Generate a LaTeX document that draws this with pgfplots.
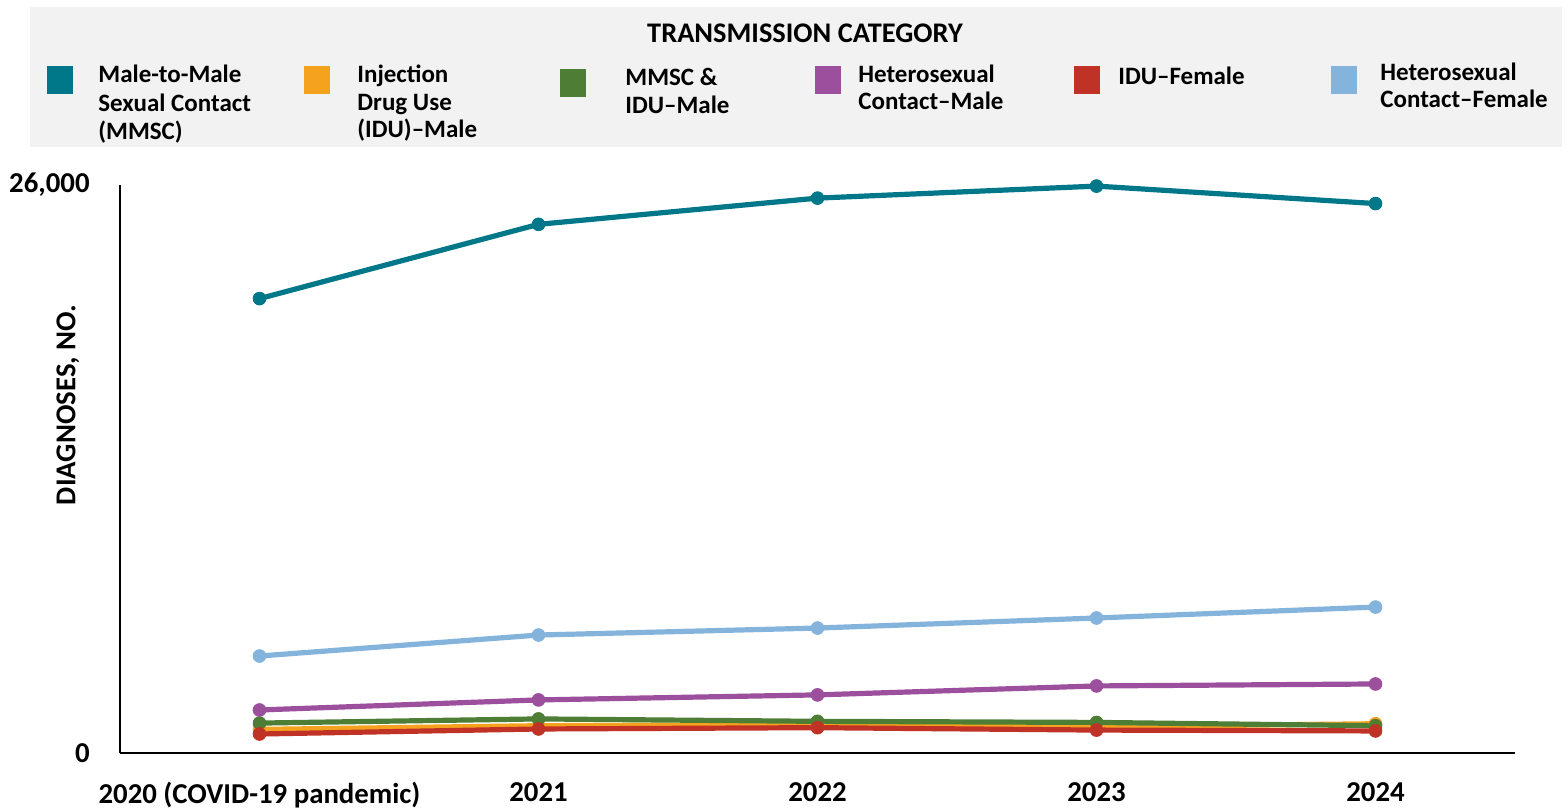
\documentclass[border=0pt]{standalone}
\usepackage{fontspec}
\setmainfont{Carlito}
\usepackage{pgfplots}
\pgfplotsset{compat=1.18}

\definecolor{cMMSC}{RGB}{0,120,138}
\definecolor{cIDUM}{RGB}{245,163,31}
\definecolor{cBOTH}{RGB}{78,125,53}
\definecolor{cHETM}{RGB}{155,79,156}
\definecolor{cIDUF}{RGB}{192,50,38}
\definecolor{cHETF}{RGB}{132,179,219}
\definecolor{legbg}{RGB}{242,242,242}

% one row per year, 0 = 2020 ... 4 = 2024
\pgfplotstableread{
x  mmsc   idum  both  hetm  iduf  hetf
0  20800  1080  1370  1970  870   4440
1  24200  1250  1560  2430  1100  5400
2  25400  1300  1450  2660  1160  5720
3  25950  1200  1400  3070  1050  6180
4  25150  1340  1250  3160  1010  6680
}\diag

\newcommand{\legfont}{\fontsize{12.5pt}{13.5pt}\selectfont\bfseries}
\newcommand{\bigfont}{\fontsize{14.4pt}{16pt}\selectfont\bfseries}

\begin{document}
\begin{tikzpicture}
\useasboundingbox (0,0) rectangle (784pt,-404pt);

% legend panel
\fill[legbg] (15pt,-3.5pt) rectangle (781pt,-73.5pt);
\node[anchor=base, inner sep=0pt, font=\fontsize{14.2pt}{15pt}\selectfont\bfseries]
  at (402.5pt,-21.5pt) {TRANSMISSION CATEGORY};

\fill[cMMSC] (23.5pt,-33pt) rectangle ++(13pt,-14pt);
\fill[cIDUM] (152pt,-33pt) rectangle ++(13pt,-14pt);
\fill[cBOTH] (280pt,-34.5pt) rectangle ++(13pt,-14pt);
\fill[cHETM] (407.5pt,-33pt) rectangle ++(13pt,-14pt);
\fill[cIDUF] (537pt,-33pt) rectangle ++(13pt,-14pt);
\fill[cHETF] (665.5pt,-33pt) rectangle ++(13pt,-14pt);

\begin{scope}[every node/.style={anchor=base west, inner sep=0pt, font=\legfont}]
  \node at (49pt,-41.5pt) {Male-to-Male};
  \node at (49pt,-55.7pt) {Sexual Contact};
  \node at (49pt,-69.9pt) {(MMSC)};
  \node at (178.5pt,-41.5pt) {Injection};
  \node at (178.5pt,-55.5pt) {Drug Use};
  \node at (178.5pt,-69pt) {(IDU)–Male};
  \node at (312.5pt,-43pt) {MMSC \&};
  \node at (312.5pt,-56.5pt) {IDU–Male};
  \node at (429pt,-41.5pt) {Heterosexual};
  \node at (429pt,-55pt) {Contact–Male};
  \node at (559pt,-42.5pt) {IDU–Female};
  \node at (690pt,-40.5pt) {Heterosexual};
  \node at (690pt,-54pt) {Contact–Female};
\end{scope}

\begin{axis}[
  at={(60pt,-376.5pt)}, anchor=south west,
  scale only axis, width=697.5pt, height=284pt,
  xmin=-0.5, xmax=4.5, ymin=0, ymax=26000,
  axis lines*=left,
  axis line style={black, line width=1pt},
  major tick length=0pt,
  xtick={0,1,2,3,4},
  xticklabels={2020 (COVID-19 pandemic),2021,2022,2023,2024},
  ytick={0,26000},
  yticklabels={0,{26,000}},
  scaled y ticks=false,
  /pgf/number format/assume math mode=true,
  xticklabel style={font=\bigfont, anchor=north, inner sep=0pt, yshift=-14.5pt},
  yticklabel style={font=\bigfont, anchor=east, inner sep=0pt, xshift=-15pt},
  ylabel={DIAGNOSES, NO.},
  ylabel style={font=\bigfont, at={(axis description cs:0,0.613)}, anchor=center, xshift=0pt, yshift=26pt},
  clip=false,
  every axis plot/.append style={line width=2.6pt, mark=*, mark size=3.2pt,
    mark options={line width=0.4pt}},
]
\addplot[cMMSC] table[x=x, y=mmsc] {\diag};
\addplot[cIDUM] table[x=x, y=idum] {\diag};
\addplot[cBOTH] table[x=x, y=both] {\diag};
\addplot[cHETM] table[x=x, y=hetm] {\diag};
\addplot[cIDUF] table[x=x, y=iduf] {\diag};
\addplot[cHETF] table[x=x, y=hetf] {\diag};
\end{axis}
\end{tikzpicture}
\end{document}
